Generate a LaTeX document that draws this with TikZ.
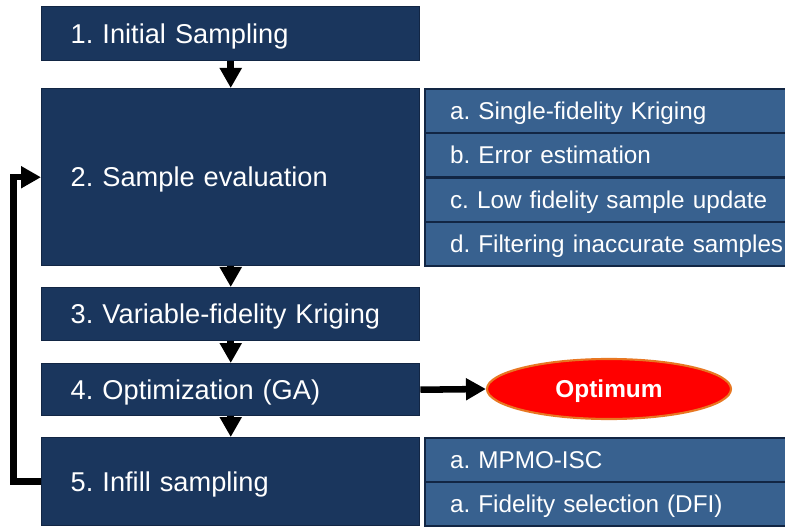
\documentclass[tikz,border=0pt]{standalone}
\usepackage{fontspec}
\setmainfont{Liberation Sans}
\usetikzlibrary{arrows.meta,shapes.geometric}
\definecolor{navy}{RGB}{26,54,93}
\definecolor{navyline}{RGB}{18,38,68}
\definecolor{subblue}{RGB}{56,97,143}
\definecolor{optred}{RGB}{255,0,0}
\definecolor{optorange}{RGB}{232,119,34}
\frenchspacing
\begin{document}
\begin{tikzpicture}[x=0.75pt,y=-0.75pt,
  mainbox/.style={rectangle, anchor=north west, fill=navy, draw=navyline, line width=1.1pt,
    text=white, font=\fontsize{20.4pt}{24pt}\selectfont, align=left,
    inner xsep=21.75pt, inner ysep=0pt, text width=240pt, text height=14.2pt, text depth=0pt},
  subbox/.style={rectangle, anchor=north west, fill=subblue, draw=navyline, line width=1.6pt,
    text=white, font=\fontsize{18.2pt}{22pt}\selectfont, align=left,
    inner xsep=18.75pt, inner ysep=0pt, text width=300pt, minimum height=33.2pt,
    text height=12.6pt, text depth=0pt},
  arr/.style={line width=4.9pt, -{Triangle[width=15.75pt,length=15pt]}, line join=miter}]
\useasboundingbox (0,0) rectangle (785,527);
% main boxes
\node[mainbox, minimum height=40.5pt] (b1) at (41,6) {1. Initial Sampling};
\node[mainbox, minimum height=132.75pt] (b2) at (41,88) {2. Sample evaluation};
\node[mainbox, minimum height=39.75pt] (b3) at (41,287) {3. Variable-fidelity Kriging};
\node[mainbox, minimum height=39pt] (b4) at (41,363) {4. Optimization (GA)};
\node[mainbox, minimum height=66pt] (b5) at (41,437) {5. Infill sampling};
% sub boxes of step 2
\node[subbox] (s2a) at (424,88) {a. Single-fidelity Kriging};
\node[subbox] (s2b) at (424,132.25) {b. Error estimation};
\node[subbox] (s2c) at (424,176.5) {c. Low fidelity sample update};
\node[subbox] (s2d) at (424,220.75) {d. Filtering inaccurate samples};
% sub boxes of step 5
\node[subbox] (s5a) at (424,437) {a. MPMO-ISC};
\node[subbox] (s5b) at (424,481) {a. Fidelity selection (DFI)};
% optimum
\node[ellipse, fill=optred, draw=optorange, line width=1.6pt, minimum width=183pt,
  minimum height=45pt, inner sep=0pt, text=white, text height=13pt, text depth=0pt,
  font=\bfseries\fontsize{18.3pt}{22pt}\selectfont] (opt) at (609,389) {Optimum};
% arrows
\draw[arr] (b1.south) -- (b2.north);
\draw[arr] (b2.south) -- (b3.north);
\draw[arr] (b3.south) -- (b4.north);
\draw[arr] (b4.south) -- (b5.north);
\draw[arr] (b4.east) -- (opt.west);
\draw[arr] (b5.west) -- ++(-27.5,0) |- (b2.west);
\end{tikzpicture}
\end{document}
